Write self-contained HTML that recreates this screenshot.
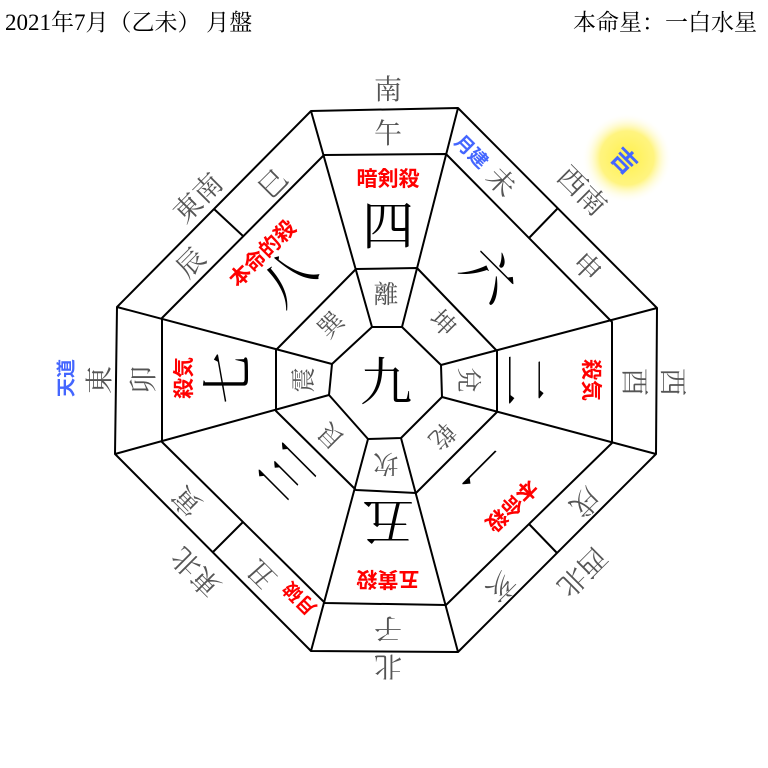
<!DOCTYPE html>
<html><head><meta charset="utf-8"><style>
html,body{margin:0;padding:0;background:#fff;}
svg{display:block}
.g{fill:#555;font-family:"Noto Serif CJK SC","Noto Sans CJK JP",serif;font-size:28px}
.p{fill:#555;font-family:"Noto Serif CJK SC",serif;font-size:25px}
.n{fill:#000;font-family:"Noto Serif CJK SC",serif;font-size:52px}
.r{fill:#f00;font-family:"Noto Sans CJK JP",sans-serif;font-size:21px;font-weight:bold}
.b{fill:#4466ff;font-family:"Noto Sans CJK JP",sans-serif;font-size:19px;font-weight:bold}
.h{fill:#000;font-family:"Liberation Serif","Noto Serif CJK SC",serif;font-size:23px}
</style></head><body>
<svg width="768" height="768" viewBox="0 0 768 768" xmlns="http://www.w3.org/2000/svg">
<defs><radialGradient id="y"><stop offset="0" stop-color="#fff14a"/><stop offset="0.6" stop-color="#fff480"/><stop offset="1" stop-color="#fff" stop-opacity="0"/></radialGradient></defs>
<circle cx="627" cy="158" r="45" fill="url(#y)"/>
<text class="h" x="5" y="30">2021年7月（乙未） 月盤</text>
<text class="h" x="757" y="30" text-anchor="end">本命星：一白水星</text>
<g fill="none" stroke="#000" stroke-width="2" stroke-linejoin="round">
<polygon points="311,111 458,108 657,308 656,454 458,652 311,651 115,454 117,307"/>
<polygon points="324,155 446,154 612,322 612,443 446,605 325,603 162,442 162,318"/>
<polygon points="356,269 417,268 497,351 497,412 416,493 356,490 276,411 276,350"/>
<polygon points="372,327 402,327 441,365 442,397 401,438 368,439 329,395 332,364"/>
<path d="M311,111L372,327M458,108L402,327M657,308L441,365M656,454L442,397M458,652L401,438M311,651L368,439M115,454L329,395M117,307L332,364"/>
<path d="M214,209L243,236M558,208L529,238M557,553L529,524M213,552L243,522"/>
</g>
<g text-anchor="middle" dominant-baseline="central">
<text class="g" transform="translate(388,88)">南</text>
<text class="g" transform="translate(388,668) rotate(180)">北</text>
<text class="g" transform="translate(98,380) rotate(-90)">東</text>
<text class="g" transform="translate(674,382) rotate(90)">西</text>
<text class="g" transform="translate(197,197) rotate(-45)">東南</text>
<text class="g" transform="translate(583,190) rotate(45)">西南</text>
<text class="g" transform="translate(195,573) rotate(-135)">東北</text>
<text class="g" transform="translate(583,573) rotate(135)">西北</text>
<text class="g" transform="translate(388,132)">午</text>
<text class="g" transform="translate(388,630) rotate(180)">子</text>
<text class="g" transform="translate(142,380) rotate(-90)">卯</text>
<text class="g" transform="translate(636,382) rotate(90)">酉</text>
<text class="g" transform="translate(272,183) rotate(-45)">巳</text>
<text class="g" transform="translate(190,262) rotate(-45)">辰</text>
<text class="g" transform="translate(502,181) rotate(45)">未</text>
<text class="g" transform="translate(588,266) rotate(45)">申</text>
<text class="g" transform="translate(586,503) rotate(135)">戌</text>
<text class="g" transform="translate(502,588) rotate(135)">亥</text>
<text class="g" transform="translate(186,502) rotate(-135)">寅</text>
<text class="g" transform="translate(261,575) rotate(-135)">丑</text>
<text class="p" transform="translate(386,293)">離</text>
<text class="p" transform="translate(386,465) rotate(180)">坎</text>
<text class="p" transform="translate(302,380) rotate(-90)">震</text>
<text class="p" transform="translate(470,380) rotate(90)">兌</text>
<text class="p" transform="translate(330,324) rotate(-45)">巽</text>
<text class="p" transform="translate(444,322) rotate(45)">坤</text>
<text class="p" transform="translate(330,437) rotate(-135)">艮</text>
<text class="p" transform="translate(443,437) rotate(135)">乾</text>
<text class="n" transform="translate(386,378)">九</text>
<text class="n" transform="translate(388,222)">四</text>
<text class="n" transform="translate(388,525) rotate(180)">五</text>
<text class="n" transform="translate(224,378) rotate(-90)">七</text>
<text class="n" transform="translate(528,380) rotate(90)">二</text>
<text class="n" transform="translate(492,272) rotate(45)">六</text>
<text class="n" transform="translate(285,275) rotate(-45)">八</text>
<text class="n" transform="translate(284,475) rotate(-135)">三</text>
<text class="n" transform="translate(480,468) rotate(135)">一</text>
<text class="r" transform="translate(388,178)">暗剣殺</text>
<text class="r" transform="translate(388,580) rotate(180)">五黄殺</text>
<text class="r" transform="translate(183,378) rotate(-90)">殺気</text>
<text class="r" transform="translate(592,380) rotate(90)">殺気</text>
<text class="r" transform="translate(262,253) rotate(-45)">本命的殺</text>
<text class="r" transform="translate(512,506) rotate(135)">本命殺</text>
<text class="r" style="font-size:19px" transform="translate(299,599) rotate(-135)">月破</text>
<text class="b" transform="translate(472,151) rotate(45)">月建</text>
<text class="b" transform="translate(65,378) rotate(-90)">天道</text>
<text class="b" style="font-size:25px" transform="translate(625,160) rotate(45)">吉</text>
</g>
</svg>
</body></html>
